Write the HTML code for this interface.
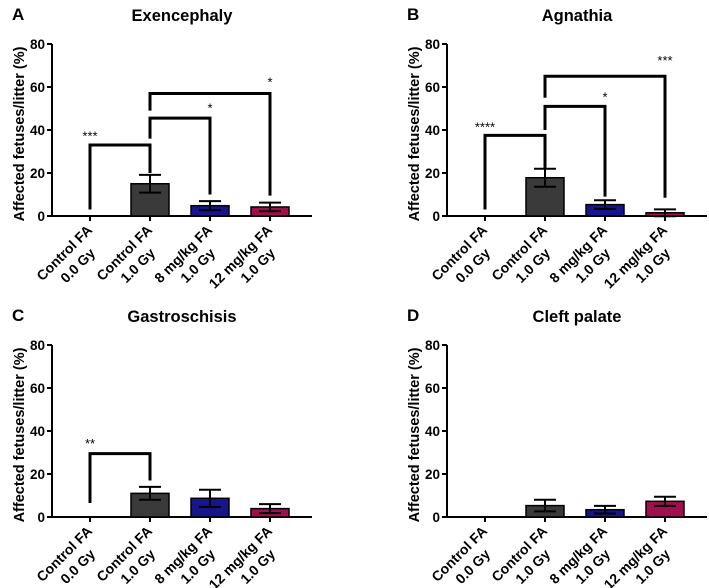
<!DOCTYPE html>
<html><head><meta charset="utf-8"><style>
body{margin:0;background:#fff;}
svg{display:block;font-family:"Liberation Sans",Arial,sans-serif;}
</style></head><body>
<svg id="fig" width="709" height="588" viewBox="0 0 709 588"></svg>
<script>
const categories = [["Control FA","0.0 Gy"],["Control FA","1.0 Gy"],["8 mg/kg FA","1.0 Gy"],["12 mg/kg FA","1.0 Gy"]];
const yTicks = [0,20,40,60,80];
const titles = ["Exencephaly","Agnathia","Gastroschisis","Cleft palate"];
const letters = ["A","B","C","D"];
const meansA = [0,15,4.8,4.2];
const errA = [0,4.1,2.1,2.0];
const meansB = [0,17.8,5.3,1.5];
const errB = [0,4.2,2.0,1.6];
const meansC = [0,11,8.7,3.9];
const errC = [0,3.0,4.0,2.1];
const meansD = [0,5.3,3.4,7.3];
const errD = [0,2.7,1.8,2.1];
// brackets: [fromIdx, toIdx, leftBottom, rightBottom, top, label, labelIdx, labelY]
const bracketsA = [[0,1,3,20,33,"***",0,38],[1,2,36,10,45.5,"*",2,51],[1,3,49,9.5,57,"*",3,63]];
const bracketsB = [[0,1,3,22,37.5,"****",0,42],[1,2,40,9,51,"*",2,56],[1,3,55,8.5,65,"***",3,73]];
const bracketsC = [[0,1,6.5,17,29.5,"**",0,35]];
const bracketsD = [];
const colors = ["#3a3a3a","#3a3a3a","#16168a","#a0104c"];

const NS="http://www.w3.org/2000/svg";
const svg=document.getElementById('fig');
function mk(tag,attrs,parent,text){const e=document.createElementNS(NS,tag);for(const k in attrs)e.setAttribute(k,attrs[k]);if(text!==undefined)e.textContent=text;parent.appendChild(e);return e;}

function panel(ox,oy,idx,means,errs,brackets){
  const g=mk('g',{},svg);
  
  
  const axX=ox, y0=oy+216, y80=oy+44;
  const ys=v=>y0-(v/80)*(y0-y80);
  const xs=i=>axX+38+i*60;
  const lt=mk('text',{x:axX-40,y:oy+20,'font-size':17,'font-weight':'bold'},g,letters[idx]);
  
  
  const tt=mk('text',{x:axX+130,y:oy+21,'font-size':16.5,'font-weight':'bold','text-anchor':'middle'},g,titles[idx]);
  
  
  const yl=mk('text',{x:0,y:0,'font-size':14.5,'font-weight':'bold','text-anchor':'middle',transform:`translate(${axX-28},${(y0+y80)/2+4}) rotate(-90)`},g,"Affected fetuses/litter (%)");
  
  
  mk('line',{x1:axX,y1:y80,x2:axX,y2:y0,stroke:'#000','stroke-width':2},g);
  mk('line',{x1:axX,y1:y0,x2:axX+260,y2:y0,stroke:'#000','stroke-width':2},g);
  yTicks.forEach(t=>{
    mk('line',{x1:axX-5,y1:ys(t),x2:axX,y2:ys(t),stroke:'#000','stroke-width':2},g);
    const tl=mk('text',{x:axX-7,y:ys(t)+5,'font-size':13.5,'font-weight':'bold','text-anchor':'end'},g,String(t));
    
    
  });
  categories.forEach((c,i)=>{
    const x=xs(i);
    mk('line',{x1:x,y1:y0,x2:x,y2:y0+5,stroke:'#000','stroke-width':2},g);
    const a=mk('text',{x:0,y:0,'font-size':14,'font-weight':'bold','text-anchor':'end',transform:`translate(${x+3},${y0+15}) rotate(-45)`},g,c[0]);
    
    
    const b=mk('text',{x:0,y:0,'font-size':14,'font-weight':'bold','text-anchor':'end',transform:`translate(${x+6},${y0+38}) rotate(-45)`},g,c[1]);
    
    
  });
  means.forEach((m,i)=>{
    if(m<=0)return;
    const x=xs(i);
    const r=mk('rect',{x:x-19,y:ys(m),width:38,height:y0-ys(m),fill:colors[i],stroke:'#000','stroke-width':1.5},g);
    
    
    const e=errs[i];
    mk('line',{x1:x,y1:ys(m-e),x2:x,y2:ys(m+e),stroke:'#000','stroke-width':2},g);
    mk('line',{x1:x-11,y1:ys(m+e),x2:x+11,y2:ys(m+e),stroke:'#000','stroke-width':2},g);
    mk('line',{x1:x-11,y1:ys(m-e),x2:x+11,y2:ys(m-e),stroke:'#000','stroke-width':2},g);
  });
  brackets.forEach(bk=>{
    const [a,b,lb,rb,top,lab,li,ly]=bk;
    const p=mk('path',{d:`M${xs(a)},${ys(lb)}V${ys(top)}H${xs(b)}V${ys(rb)}`,fill:'none',stroke:'#000','stroke-width':3},g);
    
    
    const s=mk('text',{x:xs(li),y:ys(ly)+6,'font-size':13,'text-anchor':'middle'},g,lab);
    
    
  });
}
panel(52,0,0,meansA,errA,bracketsA);
panel(447,0,1,meansB,errB,bracketsB);
panel(52,301,2,meansC,errC,bracketsC);
panel(447,301,3,meansD,errD,bracketsD);
</script>
</body></html>
